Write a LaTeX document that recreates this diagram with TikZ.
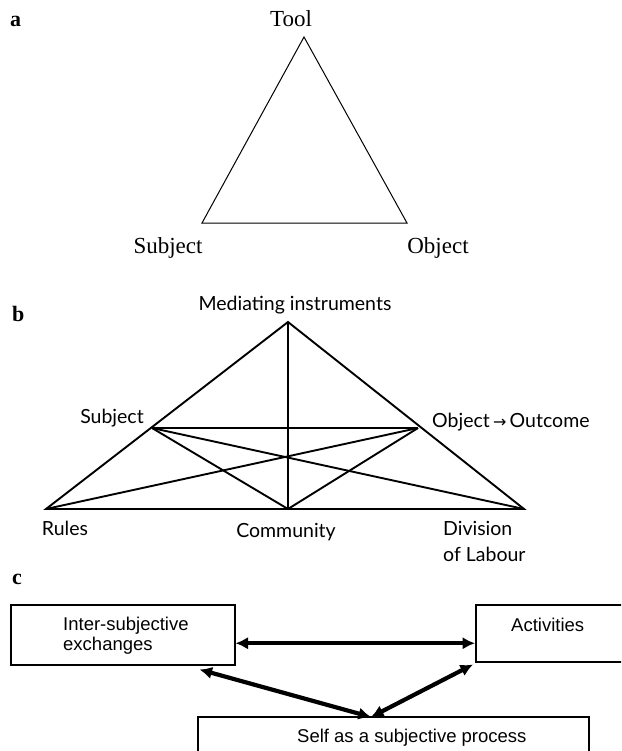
\documentclass[tikz,border=0pt]{standalone}
\usepackage{fontspec}
\setmainfont{Liberation Serif}
\newfontfamily\gillfont{Lato}
\newfontfamily\helvfont{Liberation Sans}
\newfontfamily\dvfont{DejaVu Sans}
\usetikzlibrary{arrows.meta,calc}
\tikzset{
  panellab/.style={font=\fontsize{22}{22}\selectfont\bfseries, anchor=base west, inner sep=0pt},
  alab/.style={font=\fontsize{23}{23}\selectfont, anchor=base, inner sep=0pt},
  blab/.style={font=\gillfont\fontsize{19.5}{19.5}\selectfont, anchor=base, inner sep=0pt},
  clab/.style={font=\helvfont\fontsize{18.5}{19.5}\selectfont, anchor=base west, inner sep=0pt},
  triline/.style={line width=1pt, line join=miter},
  webline/.style={line width=1.9pt, line join=miter},
  cbox/.style={draw, line width=1.5pt, inner sep=0pt},
  dblarrow/.style={line width=4.2pt, {Latex[length=12.5pt,width=12.5pt]}-{Latex[length=12.5pt,width=12.5pt]}}
}
\begin{document}
\begin{tikzpicture}[x=1pt,y=-1pt]
\useasboundingbox (0,0) rectangle (621,751);
\clip (0,0) rectangle (621,751);

% ---------- panel a ----------
\node[panellab] (la) at (10,27) {a};
\coordinate (aT) at (304,37);
\coordinate (aS) at (202,223);
\coordinate (aO) at (407,223);
\draw[triline] (aT) -- (aS) -- (aO) -- cycle;
\node[alab] (tool) at (291,27) {Tool};
\node[alab] (subjA) at (168,253) {Subject};
\node[alab] (objA) at (438,253) {Object};

% ---------- panel b ----------
\node[panellab] (lb) at (12,321) {b};
\coordinate (mi) at (288,322);
\coordinate (su) at (152,428);
\coordinate (ob) at (418,428);
\coordinate (ru) at (46,509);
\coordinate (co) at (288,509);
\coordinate (dl) at (524,509);
\draw[webline] (ru) -- (mi) -- (dl) -- cycle;
\draw[webline] (mi) -- (co);
\draw[webline] (su) -- (ob);
\draw[webline] (su) -- (co);
\draw[webline] (ob) -- (co);
\draw[webline] (su) -- (dl);
\draw[webline] (ob) -- (ru);
\node[blab] (miT) at (295,310) {Mediating instruments};
\node[blab] (suT) at (112,423) {Subject};
\node[blab, anchor=base west] (obT) at (432,427) {Object\,{\dvfont\fontsize{16}{16}\selectfont →}\,Outcome};
\node[blab] (ruT) at (65,535) {Rules};
\node[blab] (coT) at (286,537) {Community};
\node[blab, anchor=base west, align=left] (dlT) at (443,561) {Division\\[6.5pt]of Labour};

% ---------- panel c ----------
\node[panellab] (lc) at (12,584) {c};
\node[cbox, anchor=north west, minimum width=224pt, minimum height=60pt] (ie) at (10,604) {};
\node[cbox, anchor=north west, minimum width=190pt, minimum height=57pt] (act) at (475,604) {};
\node[cbox, anchor=north west, minimum width=391pt, minimum height=60pt] (self) at (197,716) {};
\node[clab, align=left] (ieT) at (63,650) {Inter-subjective\\exchanges};
\node[clab] (actT) at (511,631) {Activities};
\node[clab] (selfT) at (297,742) {Self as a subjective process};

\coordinate (meet) at (371,717);
\coordinate (ieTip) at ($(ie.south east)+(-36,4)$);
\coordinate (actTip) at ($(act.south west)+(-2,2)$);
\draw[dblarrow] ($(ie.east)+(0,8.5)$) -- ($(act.west)+(0,10)$);
\draw[dblarrow] (ieTip) -- (meet);
\draw[dblarrow] (meet) -- (actTip);
\end{tikzpicture}
\end{document}
